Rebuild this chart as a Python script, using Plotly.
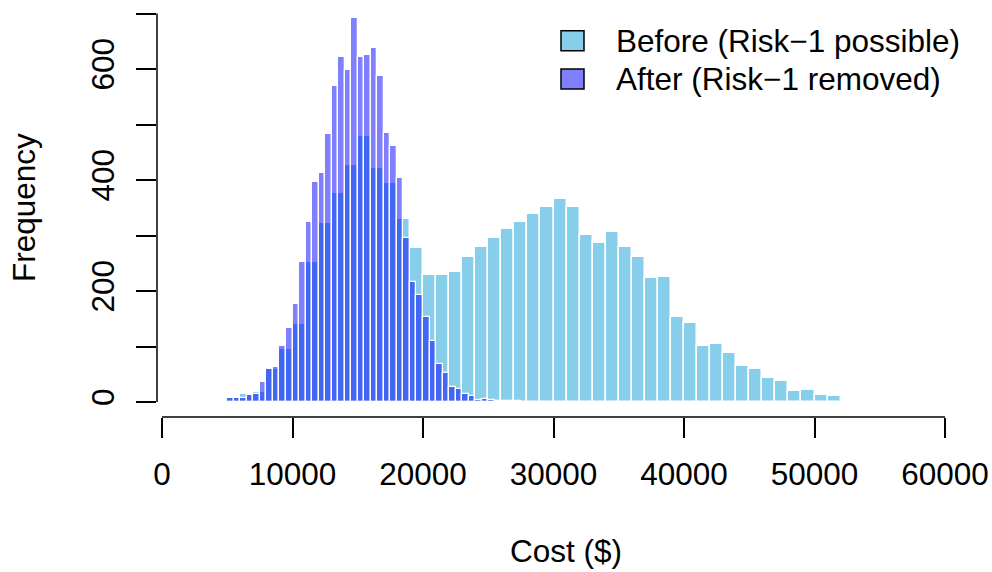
import plotly.graph_objects as go

# ---- data ----
before_starts = list(range(5000, 54000, 1000))
before_counts = [8, 14, 18, 60, 96, 140, 252, 322, 377, 427,
                 480, 421, 395, 330, 277, 229, 229, 234, 261, 280,
                 295, 312, 324, 338, 352, 366, 352, 301, 286, 306,
                 280, 261, 223, 226, 154, 142, 101, 104, 88, 64,
                 60, 44, 37, 20, 21, 12, 10, 0, 2]
before_width = 1000

after_starts = list(range(5000, 27500, 500))
after_counts = [8, 7, 8, 12, 15, 36, 59, 63, 101, 134,
                177, 252, 325, 396, 412, 482, 569, 621, 599, 691,
                622, 626, 637, 588, 484, 462, 403, 295, 216, 193,
                154, 110, 68, 52, 27, 23, 15, 10, 4, 5,
                4, 2, 1, 2, 2]
after_width = 500

x_ticks = [0, 10000, 20000, 30000, 40000, 50000, 60000]
y_ticks = [0, 100, 200, 300, 400, 500, 600, 700]
y_ticktext = ["0", "", "200", "", "400", "", "600", ""]

legend_labels = ["Before (Risk\u22121 possible)", "After (Risk\u22121 removed)"]
before_color = "#87CEEB"
after_color = "rgba(0,0,255,0.5)"
after_legend_color = "#8080FF"

# ---- layout geometry (pixels) ----
W, H = 992, 572
L, R, T, B = 157, 42, 10, 155
PW, PH = W - L - R, H - T - B
FONT = "Liberation Sans, Arial, Helvetica, sans-serif"
FS = 31.5


def px_x(px):
    return (px - L) / PW


def px_y(py):
    return (H - B - py) / PH


fig = go.Figure()
fig.add_trace(go.Bar(
    x=[s + before_width / 2 for s in before_starts], y=before_counts,
    width=[before_width] * len(before_starts),
    marker=dict(color=before_color, line=dict(color="white", width=1.5)),
    name=legend_labels[0], showlegend=False))
fig.add_trace(go.Bar(
    x=[s + after_width / 2 for s in after_starts], y=after_counts,
    width=[after_width] * len(after_starts),
    marker=dict(color=after_color, line=dict(color="white", width=1.3)),
    name=legend_labels[1], showlegend=False))

# x: 0 -> px 162, 60000 -> px 945
sx = (945 - 162) / 60000.0
x0 = (L - 162) / sx
x1 = (W - R - 162) / sx
# y: 0 -> py 402, 600 -> py 69
sy = (402 - 69) / 600.0
y0 = -((H - B) - 402) / sy
y1 = (402 - T) / sy

fig.update_layout(
    width=W, height=H, barmode="overlay", bargap=0,
    plot_bgcolor="white", paper_bgcolor="white",
    margin=dict(l=L, r=R, t=T, b=B, pad=0, autoexpand=False),
    font=dict(family=FONT, size=FS, color="black"),
    xaxis=dict(range=[x0, x1], tickvals=x_ticks, ticktext=[str(v) for v in x_ticks],
               ticks="outside", ticklen=20, tickwidth=1.5, tickcolor="black",
               showgrid=False, zeroline=False, showline=False, automargin=False,
               ticklabelstandoff=9, tickfont=dict(size=FS, family=FONT)),
    yaxis=dict(range=[y0, y1], tickvals=y_ticks, ticktext=y_ticktext,
               ticks="outside", ticklen=20, tickwidth=1.5, tickcolor="black",
               tickangle=-90, showgrid=False, zeroline=False, showline=False,
               automargin=False,
               ticklabelstandoff=9, tickfont=dict(size=FS, family=FONT)),
)

# R-style axis lines spanning the tick range only
fig.add_shape(type="line", xref="x", yref="paper", x0=0, x1=60000, y0=0, y1=0,
              line=dict(color="black", width=1.5))
fig.add_shape(type="line", xref="paper", yref="y", x0=0, x1=0, y0=0, y1=700,
              line=dict(color="black", width=1.5))

# legend (manual, R style)
for i, (lab, col) in enumerate(zip(legend_labels, [before_color, after_legend_color])):
    cy = [40.7, 79.0][i]
    fig.add_shape(type="rect", xref="paper", yref="paper",
                  x0=px_x(561), x1=px_x(584), y0=px_y(cy + 10), y1=px_y(cy - 10),
                  fillcolor=col, line=dict(color="black", width=1.5))
    fig.add_annotation(xref="paper", yref="paper", x=px_x(614), y=px_y(cy),
                       xanchor="left", yanchor="middle", text=lab, showarrow=False,
                       font=dict(size=FS, family=FONT))

# axis titles
fig.add_annotation(xref="paper", yref="paper", x=px_x(566), y=px_y(551),
                   xanchor="center", yanchor="middle", text="Cost ($)", showarrow=False,
                   font=dict(size=FS, family=FONT))
fig.add_annotation(xref="paper", yref="paper", x=px_x(24), y=px_y(208),
                   xanchor="center", yanchor="middle", text="Frequency", showarrow=False,
                   textangle=-90, font=dict(size=FS, family=FONT))

fig.write_html("out.html", config={"displayModeBar": False},
               post_script="document.body.style.margin='0';document.body.style.overflow='hidden';")
